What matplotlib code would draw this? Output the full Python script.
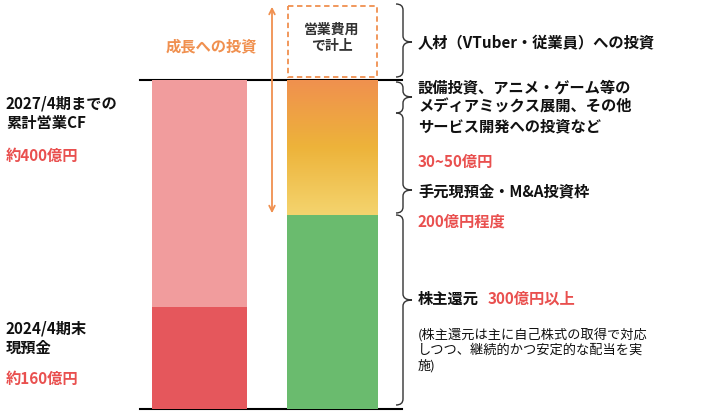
import matplotlib
matplotlib.use("Agg")
import matplotlib.pyplot as plt
import numpy as np
from matplotlib.path import Path
from matplotlib.patches import PathPatch, Rectangle

plt.rcParams["font.family"] = "Noto Sans CJK JP"

# data (億円)
left_cats = ["2024/4期末現預金", "2027/4期までの累計営業CF"]
left_vals = [174, 386]
right_cats = ["株主還元", "成長への投資"]
right_vals = [330, 230]

W, H = 719, 417
fig = plt.figure(figsize=(W/100, H/100), dpi=100)
ov = fig.add_axes([0, 0, 1, 1]); ov.set_xlim(0, W); ov.set_ylim(H, 0); ov.axis("off")

top, bot = 80, 409
ax = fig.add_axes([0, 1-bot/H, 1, (bot-top)/H])
ax.set_xlim(0, W); ax.set_ylim(0, 560); ax.axis("off")

ax.bar(199.5, left_vals[0], width=95, color="#E5575C")
ax.bar(199.5, left_vals[1], width=95, bottom=left_vals[0], color="#F19C9D")
ax.bar(332.5, right_vals[0], width=91, color="#6ABB6E")
cmap = matplotlib.colors.LinearSegmentedColormap.from_list("g", ["#F0904F", "#EDB33A", "#F4D46E"])
grad = np.linspace(0, 1, 256).reshape(-1, 1)
ax.imshow(grad, cmap=cmap, aspect="auto", origin="upper",
          extent=[287, 378, right_vals[0], right_vals[0]+right_vals[1]], zorder=2)
ax.set_xlim(0, W); ax.set_ylim(0, 560)

ov.plot([140, 402], [80, 80], color="black", lw=1.5)
ov.plot([140, 402], [409, 409], color="black", lw=1.5)

ov.add_patch(Rectangle((288, 6), 89, 71, fill=False, ec="#F0904F", ls=(0, (3, 2)), lw=1.3))
ov.text(332, 38, "営業費用\nで計上", ha="center", va="center", fontsize=10, weight="bold",
        color="#333333", linespacing=1.2)
ov.annotate("", xy=(272, 4), xytext=(272, 216),
            arrowprops=dict(arrowstyle="<->", color="#F0904F", lw=1.3))
ov.text(211, 46, "成長への投資", ha="center", va="center", fontsize=11, weight="bold", color="#F0904F")

def brace(y0, y1, tip, x0=396, x1=412):
    xm = (x0 + x1) / 2 - 1
    verts = [(x0, y0), (xm, y0), (xm, y0+6), (xm, tip-6), (xm, tip), (x1, tip),
             (xm, tip), (xm, tip+6), (xm, y1-6), (xm, y1), (x0, y1)]
    codes = [Path.MOVETO, Path.CURVE3, Path.CURVE3, Path.LINETO, Path.CURVE3, Path.CURVE3,
             Path.CURVE3, Path.CURVE3, Path.LINETO, Path.CURVE3, Path.CURVE3]
    ov.add_patch(PathPatch(Path(verts, codes), fill=False, lw=1.0, ec="#333333"))

brace(4, 77, 42)
brace(82, 113, 97)
brace(113, 213, 190)
brace(215, 405, 300)

red = "#E9504F"
K = "#111111"
kw = dict(va="center", fontsize=11, weight="heavy")
ov.text(418, 43, "人材（VTuber・従業員）への投資", color=K, **kw)
ov.text(418, 107, "設備投資、アニメ・ゲーム等の\nメディアミックス展開、その他\nサービス開発への投資など",
        color=K, linespacing=1.25, **kw)
ov.text(418, 162, "30~50億円", color=red, **kw)
ov.text(418, 191, "手元現預金・M&A投資枠", color=K, **kw)
ov.text(418, 222, "200億円程度", color=red, **kw)
ov.text(418, 299, "株主還元", color=K, **kw)
ov.text(488, 299, "300億円以上", color=red, **kw)
ov.text(418, 350, "(株主還元は主に自己株式の取得で対応\nしつつ、継続的かつ安定的な配当を実\n施)",
        va="center", fontsize=9.5, color=K, linespacing=1.2)

ov.text(6, 113, "2027/4期までの\n累計営業CF", color=K, linespacing=1.25, **kw)
ov.text(6, 156, "約400億円", color=red, **kw)
ov.text(6, 338, "2024/4期末\n現預金", color=K, linespacing=1.25, **kw)
ov.text(6, 379, "約160億円", color=red, **kw)

fig.savefig("out.png", dpi=100)
